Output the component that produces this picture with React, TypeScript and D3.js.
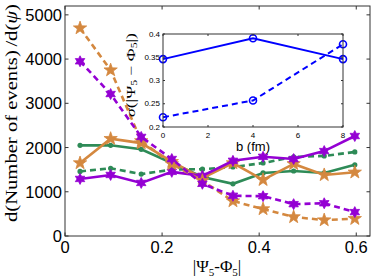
import React from "react";
import * as d3 from "d3";

const xVals = [0.031, 0.094, 0.157, 0.22, 0.283, 0.346, 0.408, 0.471, 0.534, 0.597];
const orangeSolid = [1650, 2200, 2100, 1680, 1310, 1650, 1270, 1630, 1380, 1440];
const orangeDashed = [4700, 3750, 2150, 1630, 1250, 790, 610, 430, 360, 390];
const purpleSolid = [1290, 1380, 1200, 1450, 1360, 1700, 1790, 1740, 1920, 2260];
const purpleDashed = [3950, 3210, 2240, 1740, 1180, 910, 900, 720, 740, 540];
const greenSolid = [2050, 2050, 1960, 1650, 1335, 1180, 1425, 1470, 1425, 1610];
const greenDashed = [1460, 1530, 1400, 1500, 1510, 1560, 1650, 1790, 1810, 1900];

const xTicks = [0, 0.2, 0.4, 0.6];
const yTicks = [0, 1000, 2000, 3000, 4000, 5000];

const insetB = [0, 4, 8];
const insetSolid = [0.346, 0.391, 0.346];
const insetDashed = [0.221, 0.257, 0.378];
const insetXTicks = [0, 2, 4, 6, 8];
const insetYTicks = [0.2, 0.25, 0.3, 0.35, 0.4];

const ORANGE = "#D4883F";
const PURPLE = "#9400D3";
const GREEN = "#2E8B57";
const BLUE = "#0000FF";
const AXIS = "#333333";

function starPath(n: number, R: number, ratio: number) {
  const pts: string[] = [];
  for (let i = 0; i < 2 * n; i++) {
    const a = (i * Math.PI) / n - Math.PI / 2;
    const r = i % 2 === 0 ? R : R * ratio;
    pts.push(`${(r * Math.cos(a)).toFixed(2)},${(r * Math.sin(a)).toFixed(2)}`);
  }
  return "M" + pts.join("L") + "Z";
}

export default function App() {
  const W = 374, H = 278;
  const x = d3.scaleLinear().domain([0, Math.PI / 5]).range([65, 370]);
  const y = d3.scaleLinear().domain([0, 5200]).range([236, 6]);

  const ix = d3.scaleLinear().domain([0, 8]).range([163, 343]);
  const iy = d3.scaleLinear().domain([0.2, 0.4]).range([127, 34]);

  const line = d3
    .line<number>()
    .x((_, i) => x(xVals[i]))
    .y((d) => y(d));
  const iline = d3
    .line<number>()
    .x((_, i) => ix(insetB[i]))
    .y((d) => iy(d));

  const pent = starPath(5, 7, 0.4);
  const hexa = starPath(6, 5.5, 0.55);

  const series = [
    { data: greenDashed, color: GREEN, dash: "6,4", marker: "dot" },
    { data: greenSolid, color: GREEN, dash: null, marker: "dot" },
    { data: orangeSolid, color: ORANGE, dash: null, marker: "pent" },
    { data: purpleSolid, color: PURPLE, dash: null, marker: "hexa" },
    { data: orangeDashed, color: ORANGE, dash: "6,4", marker: "pent" },
    { data: purpleDashed, color: PURPLE, dash: "6,4", marker: "hexa" },
  ];

  const [x0, x1] = x.range();
  const [y0, y1] = y.range();

  return (
    <svg
      width={W}
      height={H}
      style={{ position: "absolute", left: 0, top: 0, background: "#fff" }}
      fontFamily="'Liberation Sans', Arial, sans-serif"
    >
      {/* main series */}
      {series.map((s, k) => (
        <g key={k}>
          <path
            d={line(s.data) || ""}
            fill="none"
            stroke={s.color}
            strokeWidth={2.6}
            strokeDasharray={s.dash || undefined}
          />
          {s.data.map((v, i) =>
            s.marker === "dot" ? (
              <circle key={i} cx={x(xVals[i])} cy={y(v)} r={2.6} fill={s.color} />
            ) : (
              <path
                key={i}
                d={s.marker === "pent" ? pent : hexa}
                transform={`translate(${x(xVals[i])},${y(v)})`}
                fill={s.color}
                stroke={s.color}
                strokeWidth={0.8}
                strokeLinejoin="round"
              />
            )
          )}
        </g>
      ))}

      {/* main box */}
      <rect x={x0} y={y1} width={x1 - x0} height={y0 - y1} fill="none" stroke={AXIS} strokeWidth={1} />
      {xTicks.map((t) => (
        <g key={"xt" + t}>
          <line x1={x(t)} x2={x(t)} y1={y0} y2={y0 - 3.5} stroke={AXIS} />
          <line x1={x(t)} x2={x(t)} y1={y1} y2={y1 + 3.5} stroke={AXIS} />
          <text x={x(t)} y={253} fontSize={16.5} textAnchor="middle" fill="#000">
            {t === 0 ? "0" : t.toFixed(1)}
          </text>
        </g>
      ))}
      {yTicks.map((t) => (
        <g key={"yt" + t}>
          <line x1={x0} x2={x0 + 3.5} y1={y(t)} y2={y(t)} stroke={AXIS} />
          <line x1={x1} x2={x1 - 3.5} y1={y(t)} y2={y(t)} stroke={AXIS} />
          <text x={62} y={y(t)} fontSize={16.5} textAnchor="end" dominantBaseline="central" fill="#000">
            {t}
          </text>
        </g>
      ))}

      {/* axis labels */}
      <text
        transform="translate(17,113) rotate(-90)"
        textAnchor="middle"
        fontFamily="'Liberation Serif', 'DejaVu Serif', serif"
        fontSize={17}
        textLength={218}
        lengthAdjust="spacingAndGlyphs"
        fill="#000"
      >
        d(Number of events)
        <tspan dx={3}>/d(</tspan>
        <tspan fontStyle="italic">ψ</tspan>)
      </text>
      <text
        x={217}
        y={272}
        textAnchor="middle"
        fontFamily="'Liberation Serif', 'DejaVu Serif', serif"
        fontSize={17}
        fill="#000"
      >
        |Ψ<tspan fontSize={11} dy={4}>5</tspan>
        <tspan dy={-4}>-Φ</tspan>
        <tspan fontSize={11} dy={4}>5</tspan>
        <tspan dy={-4}>|</tspan>
      </text>

      {/* inset */}
      <rect x={163} y={34} width={180} height={93} fill="#fff" stroke="none" />
      <path d={iline(insetSolid) || ""} fill="none" stroke={BLUE} strokeWidth={2} />
      <path d={iline(insetDashed) || ""} fill="none" stroke={BLUE} strokeWidth={2} strokeDasharray="6,4" />
      {insetSolid.map((v, i) => (
        <circle key={"is" + i} cx={ix(insetB[i])} cy={iy(v)} r={3.5} fill="none" stroke={BLUE} strokeWidth={1.6} />
      ))}
      {insetDashed.map((v, i) => (
        <circle key={"id" + i} cx={ix(insetB[i])} cy={iy(v)} r={3.5} fill="none" stroke={BLUE} strokeWidth={1.6} />
      ))}
      <rect x={163} y={34} width={180} height={93} fill="none" stroke={AXIS} strokeWidth={1} />
      {insetXTicks.map((t) => (
        <g key={"ixt" + t}>
          <line x1={ix(t)} x2={ix(t)} y1={127} y2={125} stroke={AXIS} />
          <line x1={ix(t)} x2={ix(t)} y1={34} y2={36} stroke={AXIS} />
          <text x={ix(t)} y={138} fontSize={8} textAnchor="middle" fill="#000">
            {t}
          </text>
        </g>
      ))}
      {insetYTicks.map((t) => (
        <g key={"iyt" + t}>
          <line x1={163} x2={165} y1={iy(t)} y2={iy(t)} stroke={AXIS} />
          <line x1={343} x2={341} y1={iy(t)} y2={iy(t)} stroke={AXIS} />
          <text x={160} y={iy(t)} fontSize={8} textAnchor="end" dominantBaseline="central" fill="#000">
            {String(t)}
          </text>
        </g>
      ))}
      <text x={253} y={151} fontSize={13} textAnchor="middle" fill="#000">
        b (fm)
      </text>
      <text
        transform="translate(135,75) rotate(-90)"
        textAnchor="middle"
        fontFamily="'Liberation Serif', 'DejaVu Serif', serif"
        fontSize={12}
        textLength={84}
        lengthAdjust="spacingAndGlyphs"
        fill="#000"
      >
        <tspan fontStyle="italic">σ</tspan>(|Ψ<tspan fontSize={8} dy={2}>5</tspan>
        <tspan dy={-2}> − Φ</tspan>
        <tspan fontSize={8} dy={2}>5</tspan>
        <tspan dy={-2}>|)</tspan>
      </text>
    </svg>
  );
}
